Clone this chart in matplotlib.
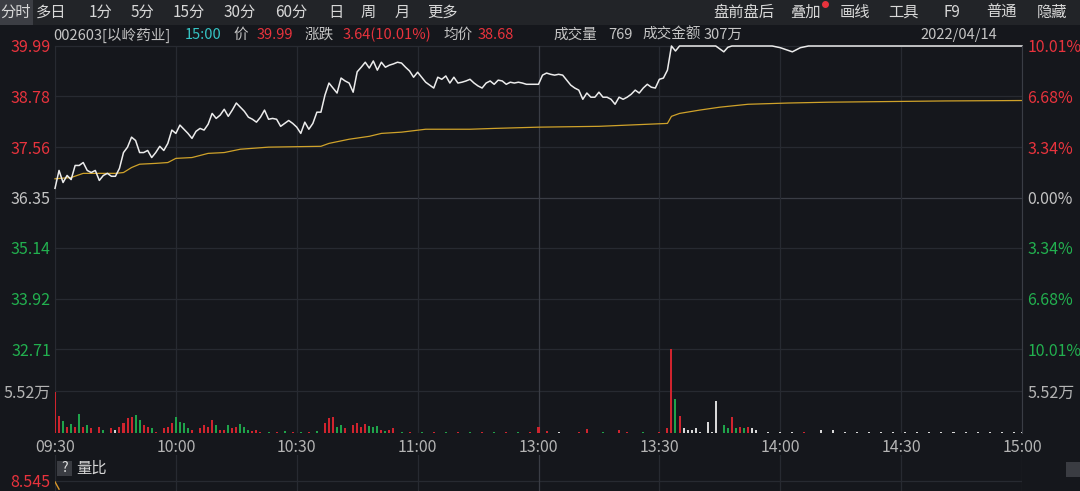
import matplotlib
matplotlib.use("Agg")
import matplotlib.pyplot as plt
from matplotlib.patches import Rectangle

plt.rcParams['font.family'] = ['Noto Sans CJK SC', 'DejaVu Sans']

# ---- data ----
pre_close = 36.35
price_levels = [39.99, 38.78, 37.56, 36.35, 35.14, 33.92, 32.71]
pct_labels = ['10.01%', '6.68%', '3.34%', '0.00%', '3.34%', '6.68%', '10.01%']
time_ticks = [0, 30, 60, 90, 120, 150, 180, 210, 240]
time_labels = ['09:30', '10:00', '10:30', '11:00', '13:00', '13:30', '14:00', '14:30', '15:00']

# minute index (0 = 09:30, 120 = 11:30/13:00, 240 = 15:00)
price_min = list(range(0, 156)) + [164, 166, 167, 168, 178, 180, 183, 185, 187, 240]
price_val = [
    36.57, 37.00, 36.71, 36.88, 36.78, 37.12, 37.12, 37.19, 37.00, 36.95,
    37.00, 36.76, 36.88, 36.93, 36.86, 36.86, 37.05, 37.43, 37.56, 37.80,
    37.72, 37.43, 37.43, 37.48, 37.31, 37.43, 37.58, 37.48, 37.65, 37.97,
    37.89, 38.09, 37.99, 37.89, 37.77, 37.94, 38.01, 37.97, 38.11, 38.37,
    38.25, 38.33, 38.47, 38.30, 38.45, 38.62, 38.52, 38.42, 38.28, 38.23,
    38.16, 38.28, 38.45, 38.23, 38.25, 38.23, 38.06, 38.13, 38.20, 38.13,
    38.04, 37.89, 38.16, 37.99, 38.13, 38.40, 38.40, 38.81, 39.10, 38.98,
    38.86, 39.22, 39.15, 39.10, 38.88, 39.37, 39.48, 39.60, 39.46, 39.63,
    39.41, 39.60, 39.48, 39.53, 39.56, 39.60, 39.58, 39.48, 39.39, 39.24,
    39.36, 39.24, 39.12, 39.05, 38.98, 39.24, 39.19, 39.27, 39.10, 39.24,
    39.10, 39.12, 39.15, 39.19, 39.10, 39.03, 38.98, 39.10, 39.15, 39.07,
    39.17, 39.15, 39.07, 39.12, 39.10, 39.12, 39.10, 39.07, 39.07, 39.07,
    39.07, 39.29, 39.34, 39.31, 39.29, 39.31, 39.29, 39.17, 39.05, 38.98,
    38.93, 38.71, 38.86, 38.76, 38.76, 38.88, 38.76, 38.76, 38.71, 38.59,
    38.76, 38.71, 38.76, 38.83, 38.93, 38.86, 38.98, 39.07, 39.00, 38.98,
    39.19, 39.22, 39.41, 39.99, 39.87, 39.99,
    39.99, 39.85, 39.96, 39.99, 39.99, 39.95, 39.85, 39.95, 39.99, 39.99,
]

avg_min = [0, 4, 7, 11, 15, 17, 19, 21, 25, 28, 30, 34, 38, 42, 46, 53, 66, 68, 73, 78,
           81, 86, 92, 103, 109, 120, 135, 152, 153, 155, 160, 165, 172, 182, 192, 221, 240]
avg_val = [36.80, 36.83, 36.93, 36.93, 36.93, 36.95, 37.07, 37.15, 37.17, 37.19, 37.29,
           37.31, 37.41, 37.43, 37.51, 37.56, 37.58, 37.65, 37.75, 37.82, 37.89, 37.92,
           37.99, 37.99, 38.01, 38.04, 38.06, 38.13, 38.30, 38.37, 38.45, 38.52, 38.59,
           38.62, 38.64, 38.67, 38.68]

# volume in 万, colour code r = up, g = down, w = flat
vol_min = [0, 1, 2, 3, 4, 5, 6, 7, 8, 9, 11, 12, 14, 15, 16, 17, 18, 19, 20, 21,
           22, 23, 24, 25, 27, 28, 29, 30, 31, 32, 33, 34, 36, 37, 38, 39, 40, 41, 42, 43,
           44, 45, 46, 47, 48, 49, 50, 51,
           53, 55, 57, 59, 61, 63, 65,
           67, 68, 69, 70, 71, 72, 74, 75, 76, 77, 78, 79, 80, 81, 82, 83, 84, 86,
           88, 91, 94, 97, 100, 103, 106, 109, 112, 115, 118,
           120, 122, 125, 130, 132, 136, 140, 142, 146, 150, 152, 153, 154, 155, 156, 157,
           158, 159, 160, 162, 163, 164, 166, 167, 168, 169, 170, 171, 172, 173, 174,
           177, 180, 183, 186, 190, 193, 196, 199, 202, 205, 208, 211, 214, 217, 220, 223,
           226, 229, 232, 235, 238, 240]
vol_val = [5.40, 2.29, 1.62, 0.81, 1.21, 0.81, 2.56, 0.81, 1.08, 0.67, 0.81, 0.40, 0.67, 0.40,
           0.81, 1.35, 2.02, 2.15, 2.42, 1.75, 1.08, 0.81, 0.67, 0.13, 0.67, 0.81, 1.35, 2.15,
           1.48, 1.35, 0.67, 0.40, 0.67, 1.08, 0.81, 1.75, 1.08, 0.40, 0.40, 1.08, 0.67, 0.81,
           1.21, 0.81, 0.40, 0.27, 0.40, 0.13,
           0.15, 0.12, 0.20, 0.15, 0.12, 0.18, 0.20,
           1.35, 2.02, 2.15, 0.81, 1.08, 0.67, 1.08, 1.35, 0.81, 1.21, 0.94, 0.81, 0.94, 0.40,
           0.27, 0.40, 0.67, 0.15,
           0.12, 0.15, 0.12, 0.15, 0.10, 0.12, 0.15, 0.10, 0.12, 0.10, 0.12,
           0.81, 0.20, 0.10, 0.13, 0.54, 0.12, 0.40, 0.13, 0.12, 0.13, 0.67, 11.0, 4.44, 2.29,
           0.67, 0.40, 0.40, 0.67, 0.13, 1.48, 0.10, 4.17, 1.08, 0.67, 2.15, 0.67, 0.81, 0.67,
           0.81, 0.67, 0.40,
           0.10, 0.12, 0.10, 0.10, 0.40, 0.40, 0.10, 0.12, 0.10, 0.10, 0.12, 0.10, 0.10, 0.12,
           0.10, 0.10, 0.12, 0.10, 0.10, 0.12, 0.10, 0.15]
vol_col = ("rrgrgrgrgrrgrwrrrrggrrgrrrrggggrrrrrgrrgrrgggrrr"
           "grgrgrg"
           "rrrggrrrrrgggrgrrg"
           "rgrgrgrgrgr"
           "rrwrrgrrgrrrgrwwwwwwwwggrgrgrww"
           "wwwrwwwwwwwwwwwwwwwwww")

vol_tick = 5.52
lb_min = [0, 1]
lb_val = [8.50, 8.10]

toolbar_left = ['分时', '多日', '1分', '5分', '15分', '30分', '60分', '日', '周', '月', '更多']
toolbar_left_x = [16, 51, 100, 142, 189, 240, 291, 336, 368, 402, 443]
toolbar_right = ['盘前盘后', '叠加', '画线', '工具', 'F9', '普通', '隐藏']
toolbar_right_x = [744, 805, 855, 903, 952, 1001, 1052]

# ---- colours ----
BG = '#15171c'
BAR_BG = '#222428'
GRID = '#272a31'
MID = '#3a3d45'
RED = '#e8333d'
GREEN = '#22b04f'
GREY = '#c4c4c4'
W, H = 1080, 491

fig = plt.figure(figsize=(W / 100, H / 100), dpi=100, facecolor=BG)


def px_axes(left, top, right, bottom):
    a = fig.add_axes([left / W, 1 - bottom / H, (right - left) / W, (bottom - top) / H])
    a.set_facecolor('none')
    return a


# header / overlay layer
hd = px_axes(0, 0, W, H)
hd.set_xlim(0, W)
hd.set_ylim(H, 0)
hd.axis('off')
hd.add_patch(Rectangle((0, 0), W, 25, color=BAR_BG, lw=0))
hd.add_patch(Rectangle((0, 0), 33, 25, color='#3c3e44', lw=0))
for t, x in zip(toolbar_left, toolbar_left_x):
    hd.text(x, 12.5, t, color='#d8d8d8', fontsize=11, ha='center', va='center')
for t, x in zip(toolbar_right, toolbar_right_x):
    hd.text(x, 12.5, t, color='#d8d8d8', fontsize=11, ha='center', va='center')
hd.plot([825], [4], 'o', color='#e8333d', ms=4)

info = [('002603[以岭药业]', 53, GREY), ('15:00', 185, '#35c4c4'), ('价', 233, GREY),
        ('39.99', 257, RED), ('涨跌', 305, GREY), ('3.64(10.01%)', 343, RED),
        ('均价', 443, GREY), ('38.68', 478, RED), ('成交量', 553, GREY), ('769', 608, GREY),
        ('成交金额', 642, GREY), ('307万', 704, GREY), ('2022/04/14', 920, GREY)]
for t, x, c in info:
    hd.text(x, 35, t, color=c, fontsize=10.5, ha='left', va='center')

# 量比 pane header
hd.add_patch(Rectangle((57, 461), 15, 15, color='#3a3c42', lw=0))
hd.text(64.5, 468.5, '?', color='#e0e0e0', fontsize=10, ha='center', va='center')
hd.text(76, 468.5, '量比', color='#d8d8d8', fontsize=11, ha='left', va='center')
hd.add_patch(Rectangle((1066, 462), 14, 15, color='#3a3c42', lw=0))

# ---- price pane ----
ax = px_axes(55, 46, 1022, 349)
ax.set_xlim(0, 240)
ax.set_ylim(price_levels[-1], price_levels[0])
for lv in price_levels:
    ax.axhline(lv, color=MID if lv == pre_close else GRID, lw=0.9, zorder=1, clip_on=False)
for t in time_ticks:
    ax.axvline(t, color=MID if t == 120 else GRID, lw=0.9, zorder=1)
ax.plot(avg_min, avg_val, color='#cfa22a', lw=0.9, zorder=3, clip_on=False)
ax.plot(price_min, price_val, color='#ececec', lw=1.1, zorder=4, clip_on=False)
ax.set_xticks([])
ax.set_yticks(price_levels)
ax.set_yticklabels([f'{v:.2f}' for v in price_levels])
ax.tick_params(axis='y', length=0, pad=3, labelsize=11.5)
ax2 = ax.twinx()
ax2.set_ylim(ax.get_ylim())
ax2.set_yticks(price_levels)
ax2.set_yticklabels(pct_labels)
ax2.tick_params(axis='y', length=0, pad=4, labelsize=11.5)
lab_cols = [RED, RED, RED, GREY, GREEN, GREEN, GREEN]
for l1, l2, c in zip(ax.get_yticklabels(), ax2.get_yticklabels(), lab_cols):
    l1.set_color(c)
    l2.set_color(c)
for a in (ax, ax2):
    for s in a.spines.values():
        s.set_visible(False)
ax2.spines['right'].set_visible(True)
ax2.spines['right'].set_color(MID)

# ---- volume pane ----
av = px_axes(55, 349, 1022, 433)
av.set_xlim(0, 240)
av.set_ylim(0, 2 * vol_tick)
av.axhline(vol_tick, color=GRID, lw=0.9, zorder=1)
for t in time_ticks:
    av.axvline(t, color=MID if t == 120 else GRID, lw=0.9, zorder=1)
cmap = {'r': '#d0242e', 'g': '#1fa34a', 'w': '#d8d8d8'}
av.bar(vol_min, vol_val, width=0.5, color=[cmap[c] for c in vol_col], lw=0, zorder=3)
av.set_xticks(time_ticks)
av.set_xticklabels(time_labels)
av.tick_params(axis='x', length=0, pad=4, labelsize=11.5, colors='#b4b4b4')
av.set_yticks([vol_tick])
av.set_yticklabels(['5.52万'])
av.tick_params(axis='y', length=0, pad=3, labelsize=11.5, colors='#b4b4b4')
av2 = av.twinx()
av2.set_ylim(av.get_ylim())
av2.set_yticks([vol_tick])
av2.set_yticklabels(['5.52万'])
av2.tick_params(axis='y', length=0, pad=4, labelsize=11.5, colors='#b4b4b4')
for a in (av, av2):
    for s in a.spines.values():
        s.set_visible(False)
av2.spines['right'].set_visible(True)
av2.spines['right'].set_color(MID)

# ---- 量比 pane ----
al = px_axes(55, 455, 1022, 491)
al.set_xlim(0, 240)
al.set_ylim(8.0, 9.96)
al.axhline(8.545, color=GRID, lw=0.9)
for t in time_ticks:
    al.axvline(t, color=MID if t == 120 else GRID, lw=0.9)
al.plot(lb_min, lb_val, color='#d8962a', lw=1.0)
al.set_xticks([])
al.set_yticks([8.545])
al.set_yticklabels(['8.545'])
al.tick_params(axis='y', length=0, pad=3, labelsize=11.5, colors=RED)
for s in al.spines.values():
    s.set_visible(False)

fig.savefig('out.png', dpi=100, facecolor=BG)
